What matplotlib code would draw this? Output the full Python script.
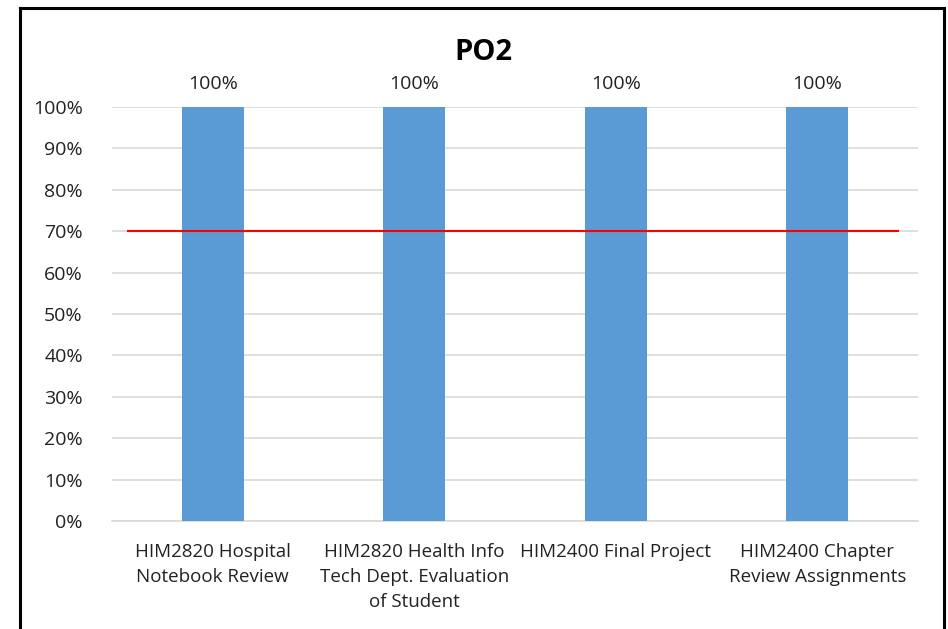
import matplotlib
matplotlib.use('Agg')
import matplotlib.pyplot as plt
from matplotlib.lines import Line2D
from matplotlib.ticker import PercentFormatter

# Chart data
categories = ['HIM2820 Hospital\nNotebook Review',
              'HIM2820 Health Info\nTech Dept. Evaluation\nof Student',
              'HIM2400 Final Project',
              'HIM2400 Chapter\nReview Assignments']
scores = [1.0, 1.0, 1.0, 1.0]
target = 0.70
target_x = [-0.42, 3.4]

W, H = 948, 629
fig = plt.figure(figsize=(W / 100, H / 100), dpi=100)
plt.rcParams['font.family'] = ['Open Sans', 'DejaVu Sans']

ax = fig.add_axes([112 / W, 1 - 521 / H, (918 - 112) / W, (521 - 107) / H])

x = range(len(categories))
ax.bar(x, scores, width=0.31, color='#5B9BD5', zorder=3)
for xi, v in zip(x, scores):
    ax.text(xi, v + 0.035, f'{v:.0%}', ha='center', va='bottom', fontsize=14, color='#222222')

ax.plot(target_x, [target, target], color='#FF0000', linewidth=1.5, zorder=4)

ax.set_xlim(-0.5, 3.5)
ax.set_ylim(0, 1.0)
ax.set_yticks([i / 10 for i in range(11)])
ax.yaxis.set_major_formatter(PercentFormatter(1.0, decimals=0))
ax.set_xticks(list(x))
ax.set_xticklabels(categories, fontsize=13.5, color='#222222', linespacing=1.5)
ax.tick_params(axis='y', labelsize=14, labelcolor='#222222', length=0, pad=21)
ax.tick_params(axis='x', length=0, pad=16)
ax.grid(axis='y', color='#D9D9D9', linewidth=1.2, zorder=0)
for s in ['top', 'right', 'left']:
    ax.spines[s].set_visible(False)
ax.spines['bottom'].set_color('#D9D9D9')
ax.spines['bottom'].set_linewidth(1.2)

fig.text(483 / W, 1 - 52 / H, 'PO2', ha='center', va='center', fontsize=21, fontweight='bold')

# Outer frame (bottom edge is cropped off)
fx0, fx1, fy1 = 20 / W, 944 / W, 1 - 8 / H
fig.add_artist(Line2D([fx0, fx0], [0, fy1], color='black', linewidth=2.2, transform=fig.transFigure))
fig.add_artist(Line2D([fx0, fx1], [fy1, fy1], color='black', linewidth=2.2, transform=fig.transFigure))
fig.add_artist(Line2D([fx1, fx1], [0, fy1], color='black', linewidth=2.2, transform=fig.transFigure))

fig.savefig('out.png', dpi=100)
